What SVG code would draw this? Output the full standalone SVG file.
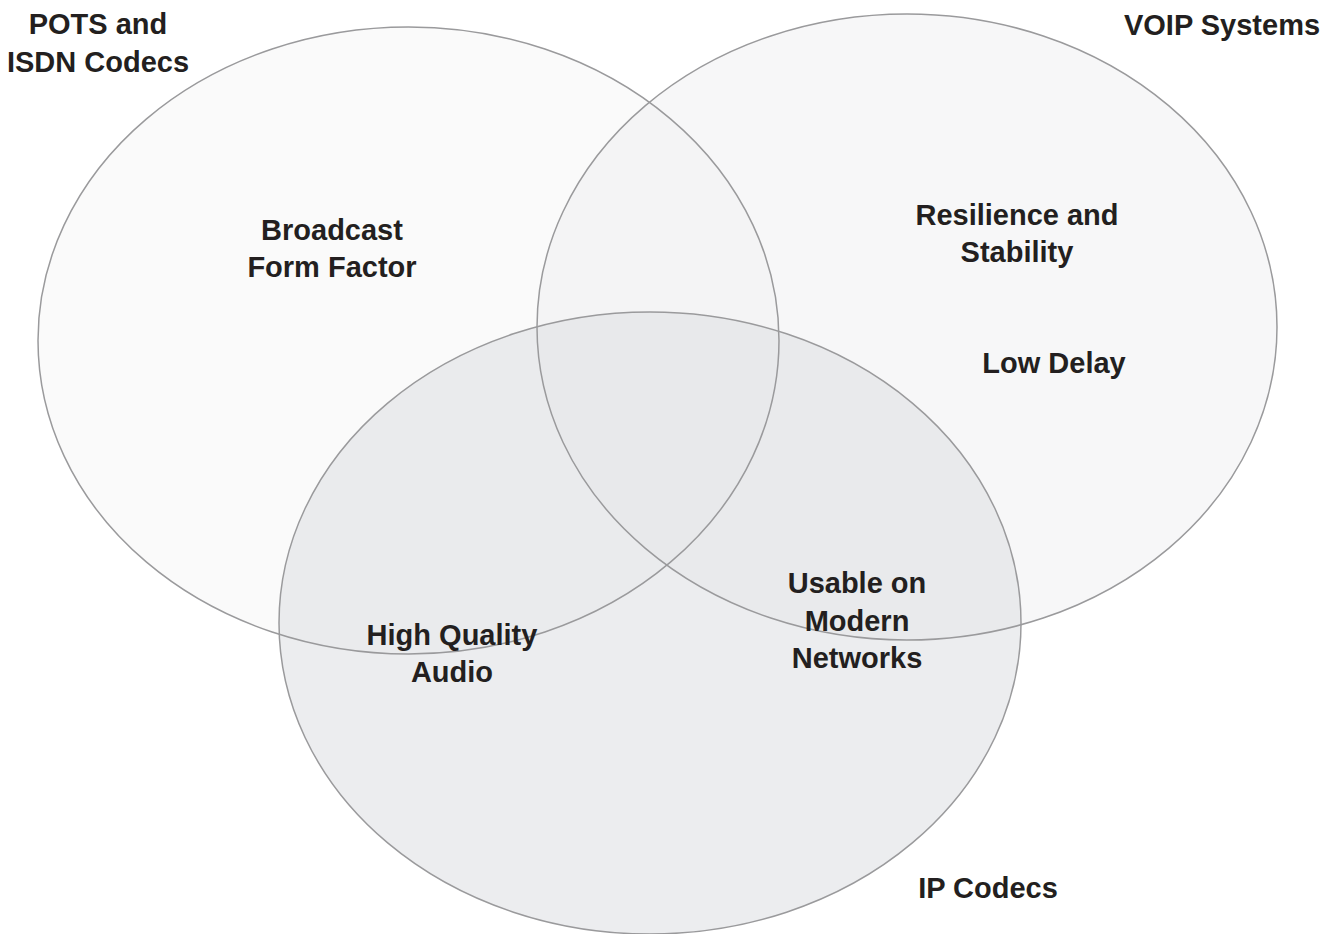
<svg xmlns="http://www.w3.org/2000/svg" width="1340" height="934" viewBox="0 0 1340 934">
<style>
.outline{stroke:#9a9a9c;stroke-width:1.5;fill:none}
.lbl{font-family:"Liberation Sans",Arial,sans-serif;font-weight:bold;font-size:29px;fill:#231f20;text-anchor:middle}
</style>
<defs>
<ellipse id="e-pots" cx="408.5" cy="340.5" rx="370.5" ry="313.5"/>
<ellipse id="e-voip" cx="907" cy="327" rx="370" ry="313"/>
<ellipse id="e-ip" cx="650" cy="623" rx="371" ry="311"/>
</defs>
<rect width="1340" height="934" fill="#ffffff"/>
<g id="sets">
<g id="pots"><use href="#e-pots" fill="#fafafa"/></g>
<g id="voip"><use href="#e-voip" fill="#ebecee" fill-opacity="0.4"/></g>
<g id="ip"><use href="#e-ip" fill="#e0e1e4" fill-opacity="0.6"/></g>
</g>
<g id="outlines">
<use href="#e-pots" class="outline"/>
<use href="#e-voip" class="outline"/>
<use href="#e-ip" class="outline"/>
</g>
<g id="connectors"></g>
<g id="labels">
<g id="label-pots"><text class="lbl" x="98" y="34">POTS and</text><text class="lbl" x="98" y="72">ISDN Codecs</text></g>
<g id="label-voip"><text class="lbl" x="1222" y="35">VOIP Systems</text></g>
<g id="label-ip"><text class="lbl" x="988" y="898">IP Codecs</text></g>
<g id="label-broadcast"><text class="lbl" x="332" y="240">Broadcast</text><text class="lbl" x="332" y="277">Form Factor</text></g>
<g id="label-resilience"><text class="lbl" x="1017" y="225">Resilience and</text><text class="lbl" x="1017" y="262">Stability</text></g>
<g id="label-delay"><text class="lbl" x="1054" y="373">Low Delay</text></g>
<g id="label-usable"><text class="lbl" x="857" y="593">Usable on</text><text class="lbl" x="857" y="631">Modern</text><text class="lbl" x="857" y="668">Networks</text></g>
<g id="label-hq"><text class="lbl" x="452" y="645">High Quality</text><text class="lbl" x="452" y="682">Audio</text></g>
</g>
</svg>
